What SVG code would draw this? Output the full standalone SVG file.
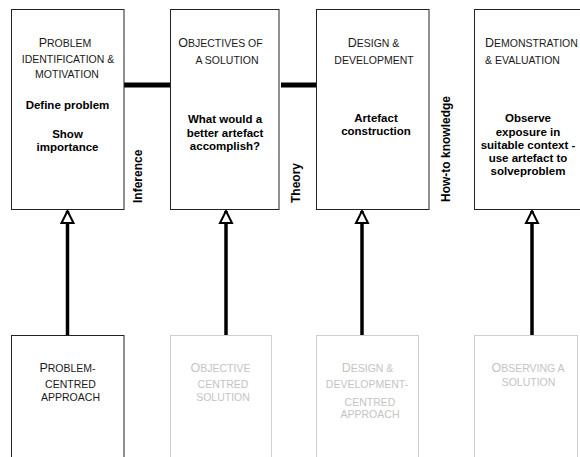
<svg xmlns="http://www.w3.org/2000/svg" width="580" height="457" viewBox="0 0 580 457">
<style>
text{font-family:"Liberation Sans",Arial,sans-serif;}
.box{fill:#fff;stroke:#222;stroke-width:1;}
.gbox{fill:#fff;stroke:#cfcfcf;stroke-width:1;}
.sc{font-size:10.5px;fill:#1a1a1a;text-anchor:middle;}
.gsc{font-size:10.5px;fill:#c4c4c4;text-anchor:middle;}
.ini{font-size:12.5px;}
.body{font-size:11.5px;font-weight:bold;fill:#000;text-anchor:middle;}
.rot{font-size:12px;font-weight:bold;fill:#000;}
.link{stroke:#000;stroke-width:5;fill:none;}
.arrow{stroke:#000;stroke-width:3.5;fill:none;marker-end:url(#tri);}
</style>
<defs>
<marker id="tri" markerUnits="userSpaceOnUse" viewBox="0 0 14 14" markerWidth="14" markerHeight="14" refX="13" refY="7" orient="auto" overflow="visible">
<path d="M1,1 L13,7 L1,13 Z" fill="#fff" stroke="#000" stroke-width="2" stroke-linejoin="miter"/>
</marker>
</defs>

<g id="connectors">
<line class="link" x1="124" y1="85" x2="170" y2="85"/>
<line class="link" x1="281" y1="85" x2="316" y2="85"/>
<line class="arrow" x1="67.5" y1="335" x2="67.5" y2="211"/>
<line class="arrow" x1="226" y1="335" x2="226" y2="211"/>
<line class="arrow" x1="362" y1="335" x2="362" y2="211"/>
<line class="arrow" x1="532" y1="335" x2="532" y2="211"/>
</g>

<g id="problem-identification">
<rect class="box" x="11.5" y="9.5" width="112.5" height="200"/>
<text class="sc" x="65" y="46.5"><tspan class="ini">P</tspan>ROBLEM</text>
<text class="sc" x="68" y="63">IDENTIFICATION &amp;</text>
<text class="sc" x="67" y="78">MOTIVATION</text>
<text class="body" x="67.5" y="108.5">Define problem</text>
<text class="body" x="67.5" y="137.5">Show</text>
<text class="body" x="67.5" y="150.5">importance</text>
</g>

<g id="objectives">
<rect class="box" x="170.5" y="9.5" width="108.5" height="200"/>
<text class="sc" x="220.5" y="46.5"><tspan class="ini">O</tspan>BJECTIVES OF</text>
<text class="sc" x="227" y="63.5">A SOLUTION</text>
<text class="body" x="225" y="122.5">What would a</text>
<text class="body" x="225" y="136.5">better artefact</text>
<text class="body" x="225" y="150">accomplish?</text>
</g>

<g id="design">
<rect class="box" x="316.5" y="9.5" width="112.5" height="200"/>
<text class="sc" x="373.5" y="46.5"><tspan class="ini">D</tspan>ESIGN &amp;</text>
<text class="sc" x="374" y="64">DEVELOPMENT</text>
<text class="body" x="376" y="122">Artefact</text>
<text class="body" x="376" y="135">construction</text>
</g>

<g id="demonstration">
<rect class="box" x="474.5" y="9.5" width="110" height="200"/>
<text class="sc" x="485" y="46.5" style="text-anchor:start"><tspan class="ini">D</tspan>EMONSTRATION</text>
<text class="sc" x="485" y="64" style="text-anchor:start">&amp; EVALUATION</text>
<text class="body" x="528" y="122">Observe</text>
<text class="body" x="528" y="135.5">exposure in</text>
<text class="body" x="528" y="149">suitable context -</text>
<text class="body" x="528" y="162">use artefact to</text>
<text class="body" x="528" y="175">solveproblem</text>
</g>

<g id="edge-labels">
<text class="rot" transform="translate(142,203) rotate(-90)">Inference</text>
<text class="rot" transform="translate(300,203) rotate(-90)">Theory</text>
<text class="rot" transform="translate(450,202) rotate(-90)">How-to knowledge</text>
</g>

<g id="problem-centred">
<rect class="box" x="11.5" y="335.5" width="112.5" height="130"/>
<text class="sc" x="67.5" y="371.5"><tspan class="ini">P</tspan>ROBLEM-</text>
<text class="sc" x="70.5" y="388">CENTRED</text>
<text class="sc" x="70.5" y="401">APPROACH</text>
</g>

<g id="objective-centred">
<rect class="gbox" x="170.5" y="335.5" width="101" height="130"/>
<text class="gsc" x="220.5" y="371.5"><tspan class="ini">O</tspan>BJECTIVE</text>
<text class="gsc" x="223" y="388">CENTRED</text>
<text class="gsc" x="223" y="401">SOLUTION</text>
</g>

<g id="design-centred">
<rect class="gbox" x="316.5" y="335.5" width="102" height="130"/>
<text class="gsc" x="367.5" y="371.5"><tspan class="ini">D</tspan>ESIGN &amp;</text>
<text class="gsc" x="367" y="387.5">DEVELOPMENT-</text>
<text class="gsc" x="370" y="405.5">CENTRED</text>
<text class="gsc" x="370" y="418">APPROACH</text>
</g>

<g id="observing">
<rect class="gbox" x="474.5" y="335.5" width="103" height="130"/>
<text class="gsc" x="528" y="371.5"><tspan class="ini">O</tspan>BSERVING A</text>
<text class="gsc" x="528.5" y="386">SOLUTION</text>
</g>
</svg>
